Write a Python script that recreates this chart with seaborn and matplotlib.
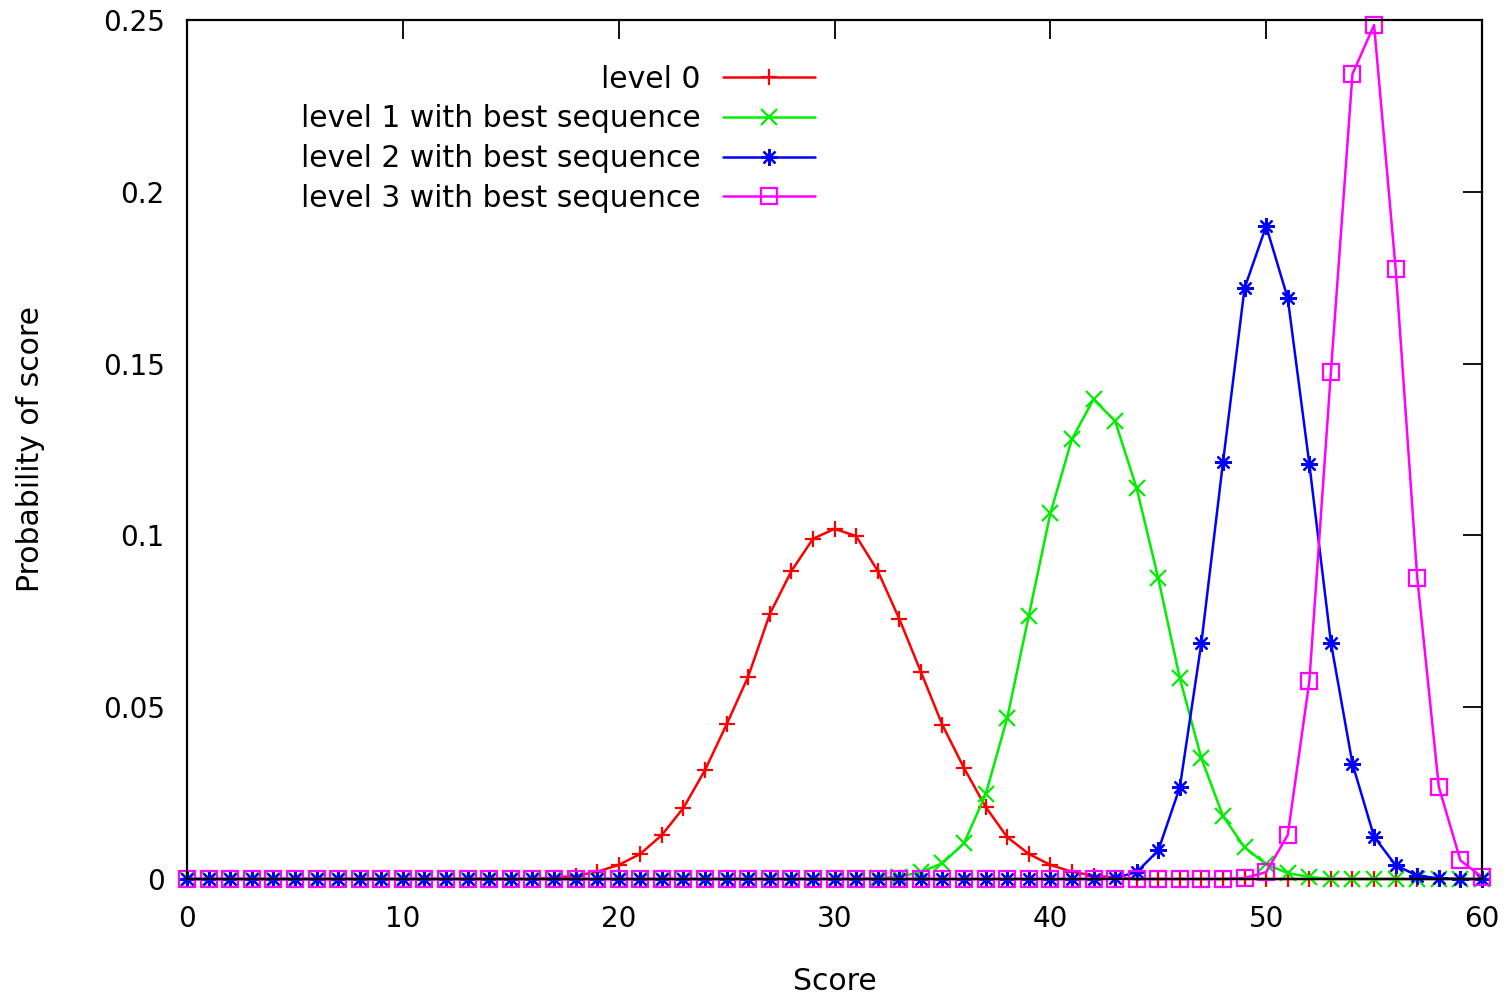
import matplotlib
matplotlib.use("Agg")
import matplotlib.pyplot as plt
import numpy as np
import seaborn as sns

# scores 0..60
scores = list(range(61))

level0 = [0, 0, 0, 0, 0, 0, 0, 0, 0, 0,
          0, 0, 0, 0, 0, 0, 0, 0.0004, 0.0009, 0.0021,
          0.0041, 0.0073, 0.0128, 0.0207, 0.0317, 0.0450, 0.0589, 0.0771, 0.0896, 0.0990,
          0.1019, 0.0998, 0.0897, 0.0757, 0.0603, 0.0448, 0.0323, 0.0210, 0.0122, 0.0073,
          0.0041, 0.0021, 0.0010, 0.0004, 0, 0, 0, 0, 0, 0,
          0, 0, 0, 0, 0, 0, 0, 0, 0, 0,
          0]
level1 = [0, 0, 0, 0, 0, 0, 0, 0, 0, 0,
          0, 0, 0, 0, 0, 0, 0, 0, 0, 0,
          0, 0, 0, 0, 0, 0, 0, 0, 0, 0,
          0, 0, 0.0002, 0.0007, 0.0020, 0.0046, 0.0104, 0.0246, 0.0468, 0.0766,
          0.1064, 0.1280, 0.1396, 0.1333, 0.1137, 0.0875, 0.0584, 0.0351, 0.0183, 0.0092,
          0.0043, 0.0017, 0.0006, 0, 0, 0, 0, 0, 0, 0,
          0]
level2 = [0, 0, 0, 0, 0, 0, 0, 0, 0, 0,
          0, 0, 0, 0, 0, 0, 0, 0, 0, 0,
          0, 0, 0, 0, 0, 0, 0, 0, 0, 0,
          0, 0, 0, 0, 0, 0, 0, 0, 0, 0,
          0, 0, 0, 0.0003, 0.0020, 0.0083, 0.0267, 0.0688, 0.1213, 0.1720,
          0.1900, 0.1690, 0.1208, 0.0688, 0.0335, 0.0123, 0.0040, 0.0010, 0.0002, 0,
          0]
level3 = [0, 0, 0, 0, 0, 0, 0, 0, 0, 0,
          0, 0, 0, 0, 0, 0, 0, 0, 0, 0,
          0, 0, 0, 0, 0, 0, 0, 0, 0, 0,
          0, 0, 0, 0, 0, 0, 0, 0, 0, 0,
          0, 0, 0, 0, 0, 0, 0, 0, 0, 0.0003,
          0.0020, 0.0128, 0.0575, 0.1476, 0.2343, 0.2485, 0.1775, 0.0877, 0.0268, 0.0054,
          0.0006]

labels = ["level 0", "level 1 with best sequence",
          "level 2 with best sequence", "level 3 with best sequence"]
xticks = [0, 10, 20, 30, 40, 50, 60]
yticks = [0, 0.05, 0.1, 0.15, 0.2, 0.25]
ytick_labels = ["0", "0.05", "0.1", "0.15", "0.2", "0.25"]

sns.set_style("white")
plt.rcParams["font.family"] = ["DejaVu Sans"]
plt.rcParams["text.color"] = "black"
plt.rcParams["axes.labelcolor"] = "black"
plt.rcParams["xtick.color"] = "black"
plt.rcParams["ytick.color"] = "black"

fig = plt.figure(figsize=(15.11, 9.93), dpi=100)
ax = fig.add_axes([0.1238, 0.1148, 0.857, 0.8651])

styles = [
    dict(color="#ff0000", marker="+", markersize=12),
    dict(color="#00ee00", marker="x", markersize=11),
    dict(color="#0000ff", marker=(8, 2, 0), markersize=12),
    dict(color="#ff00ff", marker="s", markersize=11, markerfacecolor="none"),
]
for vals, lab, st in zip([level0, level1, level2, level3], labels, styles):
    sns.lineplot(x=scores, y=vals, ax=ax, label=lab, errorbar=None,
                 linewidth=1.8, markeredgewidth=1.6,
                 markeredgecolor=st["color"], clip_on=False, **st)

ax.set_xlim(0, 60)
ax.set_ylim(0, 0.25)
ax.set_xticks(xticks)
ax.set_yticks(yticks)
ax.set_yticklabels(ytick_labels)
ax.tick_params(direction="in", length=14, width=1.3, top=True, right=True,
               labelsize=20, color="black", labelcolor="black")
ax.tick_params(axis="x", pad=19)
ax.tick_params(axis="y", pad=16)
for sp in ax.spines.values():
    sp.set_color("black")
    sp.set_linewidth(1.6)

ax.set_xlabel("Score", fontsize=21.5)
ax.set_ylabel("Probability of score", fontsize=21.5)
ax.xaxis.set_label_coords(0.5, -0.102)
ax.xaxis.label.set_va("top")
ax.yaxis.set_label_coords(-0.11, 0.5)

ax.legend(loc="upper right", bbox_to_anchor=(0.485, 0.948), frameon=False,
          markerfirst=False, fontsize=21.5, handlelength=3.1,
          handletextpad=0.74, labelspacing=0.36, borderpad=0,
          borderaxespad=0)

fig.savefig("out.png", dpi=100)
